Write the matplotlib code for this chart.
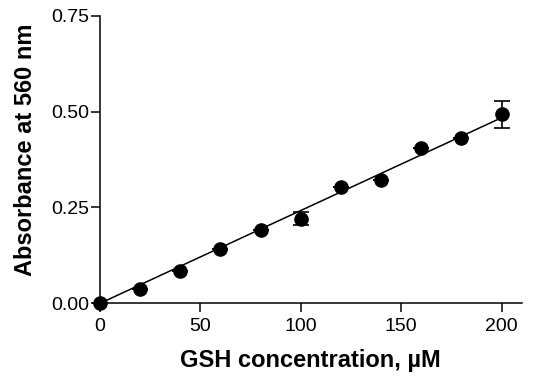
import numpy as np
import matplotlib.pyplot as plt

plt.rcParams['font.family'] = ['Liberation Sans', 'DejaVu Sans']

# GSH standard curve
conc = [0, 20, 40, 60, 80, 100, 120, 140, 160, 180, 200]
absorb = [0.0, 0.038, 0.084, 0.141, 0.191, 0.221, 0.302, 0.322, 0.406, 0.432, 0.493]
err = [0, 0, 0, 0, 0, 0.018, 0, 0, 0, 0, 0.035]

fig = plt.figure(figsize=(5.35, 3.79), dpi=100)
ax = fig.add_axes([0.187, 0.1997, 0.788, 0.759])

# linear fit forced through the origin
x = np.array(conc, dtype=float)
y = np.array(absorb)
slope = (x * y).sum() / (x * x).sum()
xf = np.array([0, 200])
ax.plot(xf, slope * xf, color='black', lw=1.1, zorder=2)

ax.errorbar(conc, absorb, yerr=err, fmt='o', color='black', ms=9.5,
            ecolor='black', elinewidth=1.2, capsize=5.5, capthick=1.2,
            clip_on=False, zorder=3)

ax.set_xlim(0, 210)
ax.set_ylim(0, 0.75)
ax.set_xticks([0, 50, 100, 150, 200])
ax.set_yticks([0, 0.25, 0.5, 0.75])
ax.set_yticklabels(['0.00', '0.25', '0.50', '0.75'])

for s in ['top', 'right']:
    ax.spines[s].set_visible(False)
for s in ['left', 'bottom']:
    ax.spines[s].set_linewidth(1.1)
ax.tick_params(direction='out', length=6.5, width=1.1, labelsize=14)
ax.tick_params(axis='x', pad=4)
ax.tick_params(axis='y', pad=1)

ax.set_xlabel('GSH concentration, µM', fontsize=17, fontweight='bold', labelpad=10)
ax.set_ylabel('Absorbance at 560 nm', fontsize=17, fontweight='bold', labelpad=10)
ax.yaxis.set_label_coords(-0.149, 0.535)

fig.savefig('out.png', dpi=100)
